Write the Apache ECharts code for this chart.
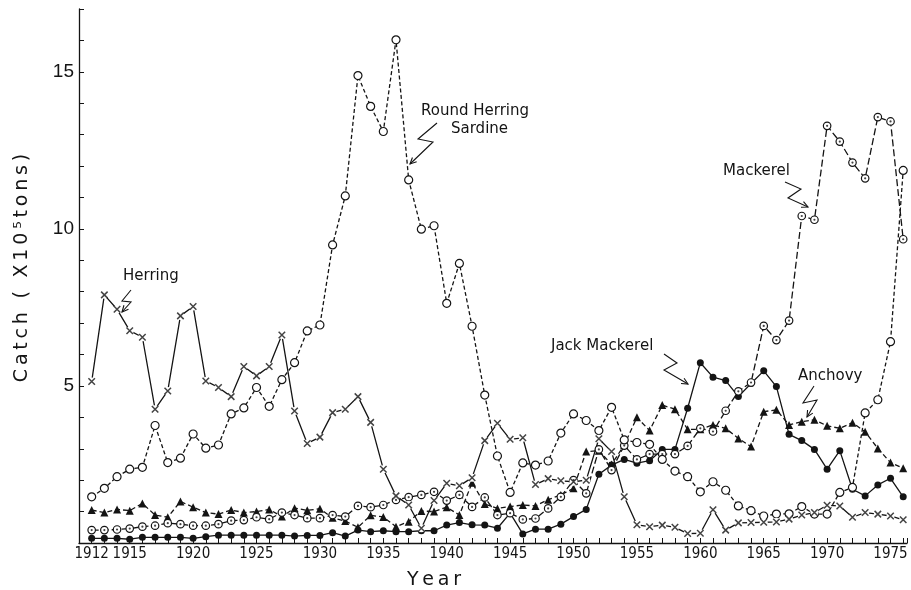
<!DOCTYPE html>
<html>
<head>
<meta charset="utf-8">
<script src="https://cdn.jsdelivr.net/npm/echarts@6/dist/echarts.min.js"></script>
<style>
  html, body { margin: 0; padding: 0; background: #fff; }
  #chart { width: 911px; height: 590px; }
</style>
</head>
<body>
<div id="chart"></div>
<script>
// Annual catch, 1912-1976, in units of 10^5 tons
const years = [];
for (let y = 1912; y <= 1976; y++) years.push(y);

const herring = [5.14, 7.90, 7.44, 6.76, 6.55, 4.26, 4.84, 7.23, 7.53, 5.16,
  4.95, 4.66, 5.62, 5.32, 5.62, 6.62, 4.20, 3.17, 3.37, 4.15,
  4.26, 4.66, 3.84, 2.35, 1.50, 1.21, 0.47, 1.35, 1.90, 1.82,
  2.08, 3.26, 3.81, 3.30, 3.35, 1.86, 2.05, 1.98, 1.95, 2.00,
  3.32, 2.91, 1.47, 0.58, 0.52, 0.57, 0.50, 0.30, 0.31, 1.06,
  0.41, 0.64, 0.65, 0.66, 0.67, 0.76, 0.89, 0.97, 1.20, 1.18,
  0.82, 0.97, 0.92, 0.86, 0.74];

const sardine = [1.47, 1.74, 2.11, 2.35, 2.41, 3.74, 2.56, 2.70, 3.47, 3.02,
  3.12, 4.11, 4.30, 4.95, 4.35, 5.20, 5.74, 6.75, 6.94, 9.49,
  11.05, 14.88, 13.90, 13.10, 16.02, 11.56, 9.99, 10.10, 7.63, 8.90,
  6.90, 4.71, 2.77, 1.61, 2.55, 2.48, 2.61, 3.50, 4.11, 3.90,
  3.58, 4.32, 3.28, 3.20, 3.14, 2.66, 2.29, 2.11, 1.63, 1.95,
  1.68, 1.18, 1.03, 0.86, 0.92, 0.93, 1.16, 0.92, 0.92, 1.61,
  1.77, 4.14, 4.56, 6.41, 11.86];

const mackerel = [0.41, 0.41, 0.43, 0.46, 0.52, 0.55, 0.63, 0.60, 0.55, 0.55,
  0.60, 0.71, 0.73, 0.82, 0.76, 0.97, 0.89, 0.79, 0.79, 0.89,
  0.84, 1.18, 1.14, 1.21, 1.37, 1.46, 1.53, 1.63, 1.35, 1.53,
  1.15, 1.45, 0.89, 0.95, 0.75, 0.78, 1.10, 1.47, 2.00, 1.58,
  2.98, 2.32, 3.10, 2.66, 2.83, 2.83, 2.83, 3.09, 3.65, 3.55,
  4.21, 4.83, 5.11, 6.91, 6.46, 7.08, 10.41, 10.29, 13.28, 12.78,
  12.11, 11.61, 13.56, 13.42, 9.67];

const jackMackerel = [0.15, 0.15, 0.15, 0.12, 0.18, 0.18, 0.18, 0.18, 0.15, 0.20,
  0.25, 0.25, 0.25, 0.25, 0.25, 0.25, 0.22, 0.24, 0.24, 0.33,
  0.22, 0.41, 0.36, 0.39, 0.36, 0.36, 0.39, 0.39, 0.57, 0.65,
  0.58, 0.57, 0.47, 0.95, 0.29, 0.44, 0.44, 0.60, 0.84, 1.07,
  2.19, 2.48, 2.66, 2.54, 2.62, 2.98, 2.98, 4.29, 5.74, 5.28,
  5.17, 4.66, 5.08, 5.48, 4.98, 3.46, 3.26, 2.98, 2.35, 2.94,
  1.71, 1.50, 1.85, 2.06, 1.47];

const anchovy = [1.05, 0.97, 1.07, 1.03, 1.26, 0.89, 0.82, 1.32, 1.14, 0.97,
  0.92, 1.05, 0.97, 1.00, 1.07, 0.84, 1.11, 1.04, 1.09, 0.80,
  0.70, 0.50, 0.88, 0.83, 0.52, 0.68, 1.02, 1.00, 1.14, 0.89,
  1.92, 1.24, 1.10, 1.16, 1.21, 1.18, 1.38, 1.53, 1.74, 2.91,
  2.94, 2.50, 3.12, 4.00, 3.58, 4.39, 4.26, 3.62, 3.62, 3.76,
  3.65, 3.33, 3.07, 4.18, 4.24, 3.76, 3.86, 3.92, 3.73, 3.65,
  3.83, 3.54, 3.01, 2.56, 2.38];

const yearLabels = [1912, 1915, 1920, 1925, 1930, 1935, 1940, 1945, 1950, 1955, 1960, 1965, 1970, 1975];
const catchLabels = [5, 10, 15];

const INK = '#141414';
const pairs = vals => years.map((y, i) => [y, vals[i]]);
const crossPath = 'path://M0,0L10,10M10,0L0,10';

function lineSeries(name, vals, dash, symbol, size, fill, border) {
  return {
    name, type: 'line', data: pairs(vals),
    symbol, symbolSize: size,
    lineStyle: { color: INK, width: 1.3, type: dash },
    itemStyle: { color: fill, borderColor: border ? INK : fill, borderWidth: border ? 1.2 : 0 },
    emphasis: { disabled: true }, silent: true, z: 2
  };
}
function overlay(vals, symbol, size, width) {
  return {
    type: 'scatter', data: pairs(vals), symbol, symbolSize: size,
    itemStyle: { color: INK, borderColor: INK, borderWidth: width },
    emphasis: { disabled: true }, silent: true, z: 3
  };
}

const series = [
  lineSeries('Jack Mackerel', jackMackerel, 'solid', 'circle', 7, INK, false),
  lineSeries('Anchovy', anchovy, [5, 3], 'triangle', 8, INK, false),
  lineSeries('Mackerel', mackerel, [7, 3], 'circle', 7.5, '#fff', true),
  overlay(mackerel, 'circle', 2.2, 0),
  lineSeries('Sardine', sardine, [4, 2.5], 'circle', 8, '#fff', true),
  // herring: white disc leaves a gap in the line around each cross
  lineSeries('Herring', herring, 'solid', 'circle', 8, '#fff', false),
  overlay(herring, crossPath, 6.5, 1.5)
];

// zig-zag pointer lines with arrowheads
function zigzag(pts) {
  const n = pts.length;
  const [x1, y1] = pts[n - 2], [x2, y2] = pts[n - 1];
  const ang = Math.atan2(y2 - y1, x2 - x1);
  const L = 7, a = 0.45;
  const h1 = [x2 - L * Math.cos(ang - a), y2 - L * Math.sin(ang - a)];
  const h2 = [x2 - L * Math.cos(ang + a), y2 - L * Math.sin(ang + a)];
  return [
    { type: 'polyline', shape: { points: pts }, style: { stroke: INK, lineWidth: 1.1, fill: null }, z: 10 },
    { type: 'polyline', shape: { points: [h1, [x2, y2], h2] }, style: { stroke: INK, lineWidth: 1.1, fill: null }, z: 10 }
  ];
}
const labelFont = '15px "DejaVu Sans", sans-serif';
function note(text, x, y) {
  return { type: 'text', style: { text, x, y, font: labelFont, fill: INK, textAlign: 'left', textVerticalAlign: 'middle' }, z: 10 };
}
// spread letters apart with thin spaces
const spaced = (s, gap) => Array.from(s).join(gap);

const graphics = [
  note('Herring', 123, 276),
  ...zigzag([[131, 290], [122, 301], [131, 302], [122, 312]]),
  note('Round Herring', 421, 111),
  note('Sardine', 451, 129),
  ...zigzag([[437, 123], [418, 139], [433, 142], [410, 164]]),
  note('Mackerel', 723, 171),
  ...zigzag([[785, 182], [801, 189], [788, 198], [808, 207]]),
  note('Jack Mackerel', 551, 346),
  ...zigzag([[664, 354], [677, 363], [664, 370], [688, 384]]),
  note('Anchovy', 798, 376),
  ...zigzag([[814, 386], [803, 403], [817, 400], [807, 417]]),
  { type: 'text', style: { text: spaced('Year', '\u2009'), x: 434, y: 580, font: '19px "DejaVu Sans", sans-serif', fill: INK, textAlign: 'center', textVerticalAlign: 'middle' } },
  { type: 'text', rotation: Math.PI / 2, x: 22, y: 268,
    style: { text: spaced('Catch ( X10⁵tons)', '\u2009'), x: 0, y: 0, font: '19px "DejaVu Sans", sans-serif', fill: INK, textAlign: 'center', textVerticalAlign: 'middle' } }
];

const chart = echarts.init(document.getElementById('chart'), null, { renderer: 'canvas' });
chart.setOption({
  animation: false,
  backgroundColor: '#fff',
  grid: { left: 79, right: 4, top: 9, bottom: 47 },
  xAxis: {
    type: 'value', min: 1911, max: 1976.3, interval: 1,
    axisLine: { lineStyle: { color: INK, width: 1.3 } },
    axisTick: { inside: true, length: 5, lineStyle: { color: INK } },
    splitLine: { show: false },
    axisLabel: {
      margin: 4, color: INK,
      fontFamily: '"Liberation Sans Narrow", "DejaVu Sans Condensed", "Liberation Sans", sans-serif',
      fontSize: 15,
      formatter: v => yearLabels.includes(v) ? String(v) : ''
    }
  },
  yAxis: {
    type: 'value', min: 0, max: 17, interval: 1,
    axisLine: { show: true, lineStyle: { color: INK, width: 1.3 } },
    axisTick: { show: true, inside: true, length: 5, lineStyle: { color: INK } },
    splitLine: { show: false },
    axisLabel: {
      margin: 5, color: INK, fontFamily: '"Liberation Sans", sans-serif', fontSize: 19,
      formatter: v => catchLabels.includes(v) ? String(v) : ''
    }
  },
  series,
  graphic: graphics
});
</script>
</body>
</html>
